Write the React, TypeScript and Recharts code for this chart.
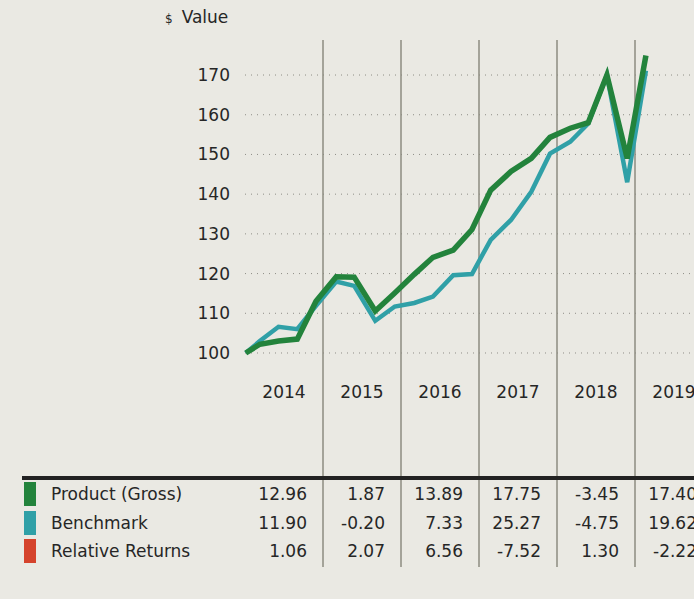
import { LineChart, Line, XAxis, YAxis, ReferenceLine, ReferenceDot } from 'recharts';

// position along the time axis (year units) of each observation
const dates = [
  2014.01, 2014.19, 2014.43, 2014.67, 2014.91, 2015.17, 2015.4, 2015.67, 2015.92, 2016.17, 2016.41,
  2016.67, 2016.91, 2017.15, 2017.41, 2017.67, 2017.91, 2018.17, 2018.4, 2018.64, 2018.9, 2019.14,
];
const product = [
  100, 102.2, 103.0, 103.5, 113.0, 119.2, 119.1, 110.6, 115.1, 119.8, 124.1,
  125.9, 131.1, 141.0, 145.7, 149.0, 154.3, 156.6, 158.0, 170.0, 149.0, 174.9,
];
const benchmark = [
  100, 103.0, 106.6, 106.0, 111.9, 118.0, 116.9, 108.1, 111.7, 112.6, 114.2,
  119.6, 119.9, 128.5, 133.5, 140.6, 150.2, 153.2, 157.8, 170.0, 143.0, 171.1,
];

const years = [2014, 2015, 2016, 2017, 2018, 2019];
const yTicks = [100, 110, 120, 130, 140, 150, 160, 170];

const productReturns = [12.96, 1.87, 13.89, 17.75, -3.45, 17.4];
const benchmarkReturns = [11.9, -0.2, 7.33, 25.27, -4.75, 19.62];
const relativeReturns = [1.06, 2.07, 6.56, -7.52, 1.3, -2.22];

const GREEN = '#23833c';
const TEAL = '#30a0a7';
const RED = '#d5432c';
const FONT = '"DejaVu Sans", sans-serif';
const TEXT = '#262626';
const FS = 17;

const data = dates.map((d, i) => ({ date: d, product: product[i], benchmark: benchmark[i] }));

const rows = [
  { name: 'Product (Gross)', color: GREEN, values: productReturns },
  { name: 'Benchmark', color: TEAL, values: benchmarkReturns },
  { name: 'Relative Returns', color: RED, values: relativeReturns },
];

const PLOT_LEFT = 245;
const YEAR_W = 78;

export default function App() {
  return (
    <div
      style={{
        position: 'fixed',
        left: 0,
        top: 0,
        width: 694,
        height: 599,
        overflow: 'hidden',
        background: '#eae9e3',
        fontFamily: FONT,
        color: TEXT,
      }}
    >
      <div style={{ position: 'absolute', left: 165, top: 7, fontSize: FS, whiteSpace: 'nowrap' }}>
        <span style={{ fontSize: 12, marginRight: 9 }}>$</span>Value
      </div>

      <div style={{ position: 'absolute', left: 0, top: 0 }}>
        <LineChart
          width={713}
          height={599}
          data={data}
          margin={{ top: 40, right: 0, bottom: 32, left: 0 }}
        >
          <XAxis dataKey="date" type="number" domain={[2014, 2020]} hide />
          <YAxis
            domain={[46.11, 178.82]}
            ticks={yTicks}
            width={PLOT_LEFT}
            axisLine={false}
            tickLine={false}
            tickSize={0}
            tickMargin={15}
            tick={{ fill: TEXT, fontSize: FS, fontFamily: FONT }}
          />
          {yTicks.map((t) => (
            <ReferenceLine key={`g-${t}`} y={t} stroke="#8e8d86" strokeDasharray="1 5" />
          ))}
          {years.slice(1).map((y) => (
            <ReferenceLine key={y} x={y} stroke="#8c8b80" strokeWidth={1.5} />
          ))}
          {years.map((y) => (
            <ReferenceDot
              key={`lbl-${y}`}
              x={y + 0.5}
              y={90.2}
              r={0}
              fill="none"
              stroke="none"
              label={{ value: String(y), position: 'center', fill: TEXT, fontSize: FS, fontFamily: FONT }}
            />
          ))}
          <Line
            type="linear"
            dataKey="benchmark"
            stroke={TEAL}
            strokeWidth={4.5}
            dot={false}
            isAnimationActive={false}
          />
          <Line
            type="linear"
            dataKey="product"
            stroke={GREEN}
            strokeWidth={5.5}
            dot={false}
            isAnimationActive={false}
          />
        </LineChart>
      </div>

      <div style={{ position: 'absolute', left: 22, top: 476, width: 700, height: 4, background: '#222' }} />

      {rows.map((row, r) => {
        const top = 482 + r * 28.5;
        return (
          <div key={row.name}>
            <div
              style={{ position: 'absolute', left: 24, top, width: 12, height: 24, background: row.color }}
            />
            <div style={{ position: 'absolute', left: 51, top: top + 1, fontSize: FS, lineHeight: '22px' }}>
              {row.name}
            </div>
            {row.values.map((v, i) => (
              <div
                key={i}
                style={{
                  position: 'absolute',
                  left: PLOT_LEFT + YEAR_W * i,
                  width: YEAR_W - 16,
                  top: top + 1,
                  fontSize: FS,
                  lineHeight: '22px',
                  textAlign: 'right',
                }}
              >
                {v.toFixed(2)}
              </div>
            ))}
          </div>
        );
      })}
    </div>
  );
}
